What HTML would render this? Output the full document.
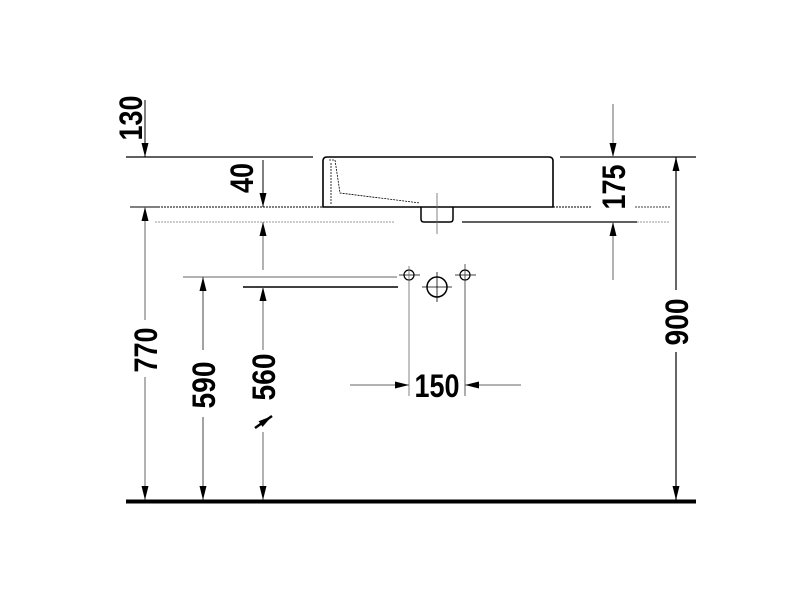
<!DOCTYPE html>
<html><head><style>body{margin:0;background:#fff}svg{display:block}</style></head><body>
<svg width="800" height="600" viewBox="0 0 800 600" xmlns="http://www.w3.org/2000/svg" font-family="Liberation Sans, sans-serif" font-weight="bold">
<defs>
<marker id="a" markerWidth="14" markerHeight="7" refX="14" refY="3.5" orient="auto" markerUnits="userSpaceOnUse" viewBox="0 0 14 7"><path d="M0,0 L14,3.5 L0,7 z" fill="#000"/></marker>
</defs>
<g stroke="#000" fill="none">
<line x1="126" y1="157" x2="313" y2="157" stroke-width="1.3"/>
<line x1="560" y1="157" x2="696" y2="157" stroke-width="1.3"/>
<path d="M327,157 H549 Q553,157 553,161 V207 H323 V161 Q323,157 327,157 Z" stroke-width="1.6"/>
<path d="M329,160 L335,160 L340,193 L420,203" stroke-width="0.8" stroke-dasharray="2,1"/>
<path d="M331,163 L331,205" stroke-width="0.8" stroke-dasharray="2,1"/>
<path d="M421,207 V219 Q421,222 424,222 H450 Q453,222 453,219 V207" stroke-width="1.5"/>
<line x1="437" y1="193" x2="437" y2="234" stroke="#666" stroke-width="0.8"/>
<line x1="158" y1="207" x2="323" y2="207" stroke-dasharray="2,1" stroke-width="1"/>
<line x1="553" y1="207" x2="592" y2="207" stroke-dasharray="2,1" stroke-width="1"/>
<line x1="635" y1="207" x2="670" y2="207" stroke-dasharray="2,1" stroke-width="0.8"/>
<line x1="155" y1="222" x2="395" y2="222" stroke="#777" stroke-dasharray="2,1" stroke-width="0.8"/>
<line x1="462" y1="222" x2="637" y2="222" stroke-width="1.2"/>
<line x1="637" y1="222" x2="670" y2="222" stroke="#777" stroke-dasharray="2,1" stroke-width="0.8"/>
<line x1="130" y1="207" x2="158" y2="207" stroke-width="1"/>
<line x1="183" y1="277" x2="397" y2="277" stroke="#666" stroke-width="1"/>
<line x1="243" y1="287" x2="398" y2="287" stroke-width="1.5"/>
<circle cx="409" cy="275" r="5" stroke-width="1.2"/>
<circle cx="465" cy="275" r="5" stroke-width="1.2"/>
<circle cx="437" cy="287" r="10" stroke-width="1.5"/>
<line x1="399" y1="275" x2="420" y2="275" stroke-width="0.8"/>
<line x1="455" y1="275" x2="476" y2="275" stroke-width="0.8"/>
<line x1="422" y1="287" x2="452" y2="287" stroke-width="0.8"/>
<line x1="437" y1="272" x2="437" y2="302" stroke-width="0.8"/>
<line x1="409" y1="266" x2="409" y2="396" stroke="#666" stroke-width="0.8"/>
<line x1="465" y1="264" x2="465" y2="396" stroke="#333" stroke-width="0.8"/>
<line x1="145" y1="100" x2="145" y2="157" stroke-width="1" marker-end="url(#a)"/>
<line x1="263" y1="160" x2="263" y2="207" stroke-width="1" marker-end="url(#a)"/>
<line x1="263" y1="270" x2="263" y2="222" stroke="#666" stroke-width="1" marker-end="url(#a)"/>
<line x1="145" y1="320" x2="145" y2="207" stroke="#666" stroke-width="1" marker-end="url(#a)"/>
<line x1="145" y1="377" x2="145" y2="500" stroke="#666" stroke-width="1" marker-end="url(#a)"/>
<line x1="203" y1="350" x2="203" y2="277" stroke="#444" stroke-width="1" marker-end="url(#a)"/>
<line x1="203" y1="417" x2="203" y2="500" stroke="#444" stroke-width="1" marker-end="url(#a)"/>
<line x1="263" y1="350" x2="263" y2="287" stroke="#666" stroke-width="1" marker-end="url(#a)"/>
<line x1="263" y1="432" x2="263" y2="500" stroke="#666" stroke-width="1" marker-end="url(#a)"/>
<line x1="350" y1="385" x2="409" y2="385" stroke="#666" stroke-width="1" marker-end="url(#a)"/>
<line x1="521" y1="385" x2="465" y2="385" stroke="#666" stroke-width="1" marker-end="url(#a)"/>
<line x1="613" y1="104" x2="613" y2="157" stroke="#666" stroke-width="1" marker-end="url(#a)"/>
<line x1="613" y1="280" x2="613" y2="222" stroke="#666" stroke-width="1" marker-end="url(#a)"/>
<line x1="676" y1="290" x2="676" y2="157" stroke-width="1.2" marker-end="url(#a)"/>
<line x1="676" y1="352" x2="676" y2="500" stroke-width="1.2" marker-end="url(#a)"/>
<line x1="126" y1="501.5" x2="696" y2="501.5" stroke-width="4"/>
<line x1="255" y1="428" x2="272" y2="416" stroke-width="2.5" marker-end="url(#a)"/>
</g>
<g font-size="32" fill="#000" text-anchor="middle" lengthAdjust="spacingAndGlyphs">
<text transform="translate(142,118) rotate(-90)" textLength="45" lengthAdjust="spacingAndGlyphs">130</text>
<text transform="translate(253,178) rotate(-90)" textLength="30" lengthAdjust="spacingAndGlyphs">40</text>
<text transform="translate(157,350) rotate(-90)" textLength="45" lengthAdjust="spacingAndGlyphs">770</text>
<text transform="translate(215,385) rotate(-90)" textLength="47" lengthAdjust="spacingAndGlyphs">590</text>
<text transform="translate(275,377) rotate(-90)" textLength="47" lengthAdjust="spacingAndGlyphs">560</text>
<text transform="translate(625,187) rotate(-90)" textLength="45" lengthAdjust="spacingAndGlyphs">175</text>
<text transform="translate(688,322) rotate(-90)" textLength="47" lengthAdjust="spacingAndGlyphs">900</text>
<text x="437" y="397" textLength="45" lengthAdjust="spacingAndGlyphs">150</text>
</g>
</svg>
</body></html>
